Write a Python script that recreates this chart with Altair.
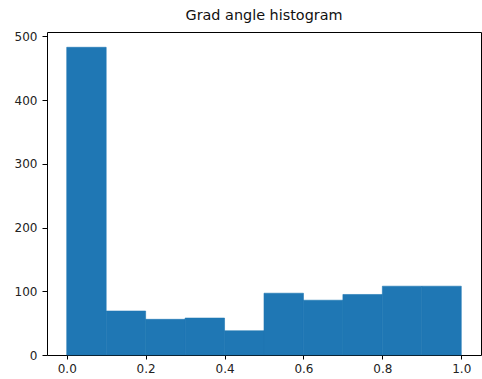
import altair as alt
import pandas as pd

bin_start = [0.0, 0.1, 0.2, 0.3, 0.4, 0.5, 0.6, 0.7, 0.8, 0.9]
bin_end = [0.1, 0.2, 0.3, 0.4, 0.5, 0.6, 0.7, 0.8, 0.9, 1.0]
counts = [483, 69, 56, 58, 38, 97, 86, 95, 108, 108]

df = pd.DataFrame({"start": bin_start, "end": bin_end, "count": counts})

FONT = "DejaVu Sans"

chart = (
    alt.Chart(df)
    .mark_rect(color="#1f77b4", stroke="#1f77b4", strokeWidth=0.6)
    .encode(
        x=alt.X(
            "start:Q",
            scale=alt.Scale(domain=[-0.05, 1.05], nice=False, zero=False),
            axis=alt.Axis(
                values=[0.0, 0.2, 0.4, 0.6, 0.8, 1.0],
                format=".1f",
                title=None,
                grid=False,
                domain=False,
                tickSize=4,
                tickColor="black",
                labelPadding=4,
                labelFont=FONT,
                labelFontSize=12,
                labelColor="#222222",
            ),
        ),
        x2="end:Q",
        y=alt.Y(
            "count:Q",
            scale=alt.Scale(domain=[0, 507], nice=False),
            axis=alt.Axis(
                values=[0, 100, 200, 300, 400, 500],
                title=None,
                grid=False,
                domain=False,
                tickSize=5,
                tickColor="black",
                labelPadding=5,
                labelFont=FONT,
                labelFontSize=12,
                labelColor="#222222",
            ),
        ),
        y2=alt.datum(0),
    )
    .properties(
        width=434,
        height=323,
        title=alt.TitleParams(
            "Grad angle histogram",
            font=FONT,
            fontSize=14.4,
            fontWeight="normal",
            color="#111111",
            offset=7,
            anchor="middle",
        ),
        autosize=alt.AutoSizeParams(type="none"),
        padding={"left": 47, "top": 32, "right": 1, "bottom": 24},
    )
    .configure_view(stroke="black", strokeWidth=1)
)

chart.save("out.html", embed_options={"renderer": "svg", "actions": False})
